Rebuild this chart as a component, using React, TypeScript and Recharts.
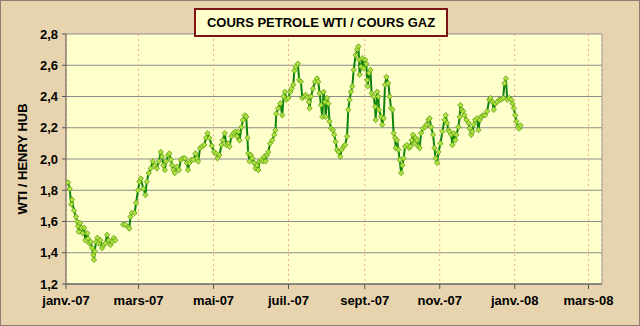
import {
  CartesianGrid,
  Line,
  LineChart,
  ReferenceLine,
  XAxis,
  YAxis,
} from "recharts";

// days since 1 Jan 2007
const DAYS = [
  1.6, 3.0, 4.3, 4.9, 6.5, 8.1, 9.0, 9.8, 10.3, 11.4, 12.5, 13.6, 14.7, 15.7,
  17.3, 17.9, 19.0, 20.1, 21.2, 22.2, 22.8, 23.4, 24.4, 25.5, 26.6, 27.9, 29.3,
  30.7, 32.0, 33.4, 34.8, 36.1, 37.5, 38.8, 40.1, 43.0, 46.4, 48.3, 50.5, 51.5,
  52.4, 53.7, 55.9, 57.0, 58.6, 59.7, 60.8, 62.9, 64.6, 65.7, 67.3, 69.0, 70.6,
  72.2, 73.9, 75.5, 77.1, 78.2, 79.2, 80.4, 81.4, 83.1, 84.1, 85.3, 86.3, 87.4,
  88.5, 90.1, 91.8, 93.4, 95.0, 96.7, 98.3, 99.3, 100.4, 102.0, 103.7, 105.3,
  106.4, 107.5, 109.1, 110.7, 112.4, 114.0, 115.1, 116.7, 118.6, 120.5, 122.1,
  123.2, 124.8, 126.5, 127.6, 129.2, 130.3, 131.9, 133.0, 134.6, 136.2, 137.9,
  139.0, 140.1, 141.1, 142.8, 143.9, 145.5, 146.6, 147.6, 148.2, 149.3, 150.4,
  151.5, 153.1, 154.2, 155.3, 156.4, 157.4, 159.0, 160.2, 161.2, 162.3, 163.4,
  164.5, 166.1, 167.8, 169.4, 170.4, 171.0, 172.6, 174.3, 175.9, 177.0, 178.1,
  179.2, 180.8, 182.4, 183.5, 184.9, 185.7, 186.8, 188.6, 189.7, 191.1, 192.2,
  193.8, 194.9, 196.5, 197.6, 198.1, 199.3, 200.9, 202.5, 204.2, 205.2, 206.3,
  207.4, 208.5, 209.5, 210.7, 211.2, 212.3, 213.4, 214.4, 215.6, 217.2, 218.2,
  219.3, 220.4, 221.5, 223.1, 224.2, 225.8, 227.0, 228.6, 229.6, 230.7, 231.8,
  232.9, 234.0, 235.6, 236.8, 237.8, 238.4, 238.8, 240.0, 241.0, 242.1, 243.2,
  244.3, 244.9, 245.4, 246.5, 247.6, 248.6, 250.2, 251.4, 251.9, 253.0, 254.1,
  254.6, 256.3, 257.3, 258.4, 259.5, 260.6, 262.2, 263.3, 264.4, 265.5, 266.5,
  267.7, 268.2, 269.3, 270.4, 271.4, 272.6, 273.6, 274.7, 275.8, 277.4, 279.1,
  280.1, 281.2, 282.3, 283.4, 284.4, 285.6, 286.6, 287.7, 288.8, 290.5, 292.1,
  293.2, 294.8, 295.8, 297.0, 298.6, 299.7, 300.7, 301.9, 303.0, 304.6, 306.2,
  307.8, 308.9, 310.0, 311.1, 312.1, 313.3, 314.3, 315.4, 316.6, 317.6, 319.2,
  320.3, 320.8, 321.9, 323.0, 324.1, 325.7, 327.4, 328.4, 329.6, 330.6, 331.7,
  332.8, 334.4, 335.5, 336.6, 337.7, 339.3, 340.9, 342.6, 344.2, 345.3, 346.9,
  348.0, 349.1, 350.7, 352.4, 354.0, 355.6, 356.7, 357.8, 358.9, 360.5, 362.1,
  363.2, 364.3, 365.4, 366.4, 367.5, 368.6, 369.7,
];

// WTI / Henry Hub ratio
const RATIO = [
  1.85, 1.81, 1.71, 1.74, 1.67, 1.63, 1.6, 1.57, 1.535, 1.59, 1.56, 1.525, 1.56,
  1.48, 1.525, 1.49, 1.46, 1.47, 1.43, 1.385, 1.355, 1.41, 1.47, 1.495, 1.46,
  1.48, 1.43, 1.45, 1.46, 1.515, 1.48, 1.45, 1.47, 1.495, 1.48, null, 1.58,
  1.58, 1.565, 1.555, 1.63, 1.655, 1.655, 1.72, 1.8, 1.855, 1.875, 1.81, 1.77,
  1.855, 1.91, 1.94, 1.985, 1.96, 1.94, 1.985, 2.045, 2.015, 1.96, 1.93, 1.985,
  2.025, 2.035, 1.995, 1.96, 1.93, 1.91, 1.95, 1.93, 1.995, 2.005, 2.005,
  1.975, 1.93, 1.975, 1.995, 1.995, 2.035, 2.005, 1.985, 2.07, 2.08, 2.09,
  2.135, 2.165, 2.135, 2.085, 2.045, 2.035, 2.005, 2.025, 2.09, 2.12, 2.165,
  2.09, 2.1, 2.08, 2.145, 2.165, 2.175, 2.145, 2.175, 2.12, 2.205, 2.25, 2.28,
  2.27, 2.135, 2.035, 1.985, 2.025, 2.005, 1.975, 1.94, 1.96, 1.93, 1.985,
  1.995, 1.985, 2.015, 1.985, 2.025, 2.045, 2.1, 2.12, 2.155, 2.185, 2.29,
  2.325, 2.355, 2.28, 2.4, 2.43, 2.38, 2.39, 2.43, 2.45, 2.475, 2.565, 2.59,
  2.61, 2.505, 2.495, 2.39, 2.4, 2.41, 2.395, 2.365, 2.325, 2.4, 2.45, 2.495,
  2.515, 2.495, 2.42, 2.345, 2.27, 2.43, 2.365, 2.27, 2.39, 2.355, 2.24, 2.195,
  2.185, 2.155, 2.11, 2.06, 2.045, 2.015, 2.06, 2.08, 2.09, 2.145, 2.315, 2.38,
  2.43, 2.465, 2.57, 2.665, 2.7, 2.72, 2.635, 2.54, 2.59, 2.645, 2.58, 2.635,
  2.61, 2.505, 2.465, 2.55, 2.57, 2.42, 2.4, 2.335, 2.25, 2.43, 2.4, 2.315,
  2.27, 2.22, 2.26, 2.475, 2.525, 2.485, 2.4, 2.325, 2.315, 2.165, 2.135, 2.07,
  2.12, 2.06, 1.995, 1.91, 1.96, 2.005, 2.08, 2.09, 2.07, 2.08, 2.12, 2.155,
  2.1, 2.135, 2.12, 2.08, 2.07, 2.165, 2.195, 2.205, 2.22, 2.25, 2.26, 2.205,
  2.155, 2.07, 2.005, 1.975, 2.045, 2.1, 2.175, 2.25, 2.28, 2.23, 2.185, 2.175,
  2.155, 2.09, 2.165, 2.12, 2.155, 2.205, 2.27, 2.345, 2.315, 2.305, 2.28,
  2.25, 2.23, 2.195, 2.155, 2.175, 2.22, 2.25, 2.26, 2.185, 2.25, 2.27, 2.28,
  2.28, 2.305, 2.38, 2.39, 2.365, 2.315, 2.355, 2.365, 2.38, 2.38, 2.39, 2.485,
  2.515, 2.38, 2.39, 2.38, 2.355, 2.325, 2.28, 2.24, 2.205, 2.195, 2.215,
];

const X_TICKS = [0, 59, 120, 181, 243, 304, 365, 425];
const X_LABELS = [
  "janv.-07",
  "mars-07",
  "mai-07",
  "juil.-07",
  "sept.-07",
  "nov.-07",
  "janv.-08",
  "mars-08",
];
const Y_TICKS = [1.2, 1.4, 1.6, 1.8, 2.0, 2.2, 2.4, 2.6, 2.8];

const FONT = "'Liberation Sans', Arial, sans-serif";
const X_MAX = 436;

const data = DAYS.map((day, i) => ({ day, ratio: RATIO[i] }));

function Diamond(props: any) {
  const { cx, cy, index } = props;
  if (cx == null || cy == null || props.value == null) return <g key={index} />;
  const r = 2.7;
  return (
    <path
      key={index}
      d={`M${cx},${cy - r} L${cx + r},${cy} L${cx},${cy + r} L${cx - r},${cy} Z`}
      fill="#b0e040"
      stroke="#5c9e12"
      strokeWidth={0.8}
    />
  );
}

export default function App() {
  return (
    <div
      style={{
        position: "fixed",
        left: 0,
        top: 0,
        width: 640,
        height: 326,
        background: "#e7d4ae",
        boxSizing: "border-box",
        border: "1px solid #8a8070",
        fontFamily: FONT,
      }}
    >
      <div style={{ position: "absolute", left: -1, top: -1 }}>
        <LineChart
          width={640}
          height={326}
          data={data}
          margin={{ top: 34, right: 38, left: 0, bottom: 0 }}
        >
          <CartesianGrid
            vertical={false}
            stroke="#8c8c8c"
            fill="#ffffcc"
            fillOpacity={1}
          />
          <CartesianGrid
            horizontal={false}
            stroke="#f2a890"
            strokeDasharray="2 3"
          />
          <ReferenceLine x={X_MAX} stroke="#a0a0a0" />
          <XAxis
            dataKey="day"
            type="number"
            domain={[0, X_MAX]}
            ticks={X_TICKS}
            interval={0}
            allowDataOverflow
            tickFormatter={(v) => X_LABELS[X_TICKS.indexOf(v)]}
            height={42}
            tickSize={5}
            tickMargin={7}
            stroke="#555"
            tick={{ fontSize: 13, fontWeight: "bold", fill: "#000", fontFamily: FONT }}
          />
          <YAxis
            type="number"
            domain={[1.2, 2.8]}
            ticks={Y_TICKS}
            interval={0}
            width={66}
            tickSize={4}
            tickMargin={4}
            stroke="#555"
            tickFormatter={(v) => v.toFixed(1).replace(".", ",")}
            tick={{ fontSize: 13, fontWeight: "bold", fill: "#000", fontFamily: FONT }}
          />
          <Line
            type="linear"
            dataKey="ratio"
            stroke="#0b830b"
            strokeWidth={2}
            connectNulls={false}
            dot={Diamond}
            activeDot={false}
            isAnimationActive={false}
          />
        </LineChart>
      </div>
      <div
        style={{
          position: "absolute",
          left: 21,
          top: 158,
          transform: "translate(-50%, -50%) rotate(-90deg)",
          whiteSpace: "nowrap",
          fontSize: 13,
          fontWeight: "bold",
          color: "#000",
        }}
      >
        WTI / HENRY HUB
      </div>
      <div
        style={{
          position: "absolute",
          left: 193,
          top: 7,
          width: 254,
          height: 29,
          boxSizing: "border-box",
          border: "2px solid #7a1414",
          background: "#ffffcc",
          display: "flex",
          alignItems: "center",
          justifyContent: "center",
          fontSize: 13,
          fontWeight: "bold",
          color: "#000",
          whiteSpace: "nowrap",
        }}
      >
        COURS PETROLE WTI / COURS GAZ
      </div>
    </div>
  );
}
